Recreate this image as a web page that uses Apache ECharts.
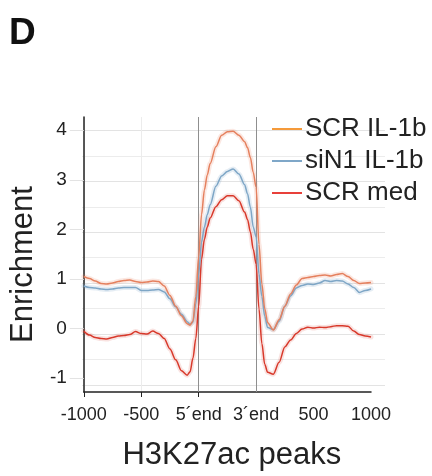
<!DOCTYPE html>
<html>
<head>
<meta charset="utf-8">
<script src="https://cdn.jsdelivr.net/npm/echarts@6/dist/echarts.min.js"></script>
<style>
html,body{margin:0;padding:0;background:#fff;}
#chart{width:432px;height:476px;}
</style>
</head>
<body>
<div id="chart"></div>
<script>
// bin positions along the meta-peak (0 = -1000, 40 = 5'end, 60 = 3'end, 100 = 1000)
const positions = [0,2,4,6,8,10,12,14,16,18,20,22,24,26,28,30,32,34,36,37,38,39,40,41,42,43,44,46,48,50,52,54,56,57,58,59,60,61,62,63,64,66,68,70,72,74,76,78,80,82,84,86,88,90,92,94,96,98,100];

const scrIL1b = [1.05,1.01,0.96,0.91,0.90,0.92,0.95,0.97,0.98,0.95,0.93,0.94,0.96,0.95,0.86,0.67,0.45,0.26,0.10,
  0.07,0.15,0.65,1.45,2.30,2.80,3.10,3.33,
  3.67,3.90,3.97,3.98,3.90,3.77,
  3.65,3.45,3.15,2.85,1.70,0.90,0.40,0.12,
  -0.03,0.18,0.45,0.70,0.88,1.01,1.03,1.05,1.07,1.08,1.06,1.09,1.11,1.05,0.97,0.91,0.92,0.93];

const siN1IL1b = [0.86,0.83,0.82,0.80,0.79,0.80,0.82,0.83,0.83,0.83,0.77,0.77,0.78,0.79,0.74,0.60,0.44,0.29,0.14,
  0.09,0.13,0.50,1.10,1.75,2.05,2.30,2.50,
  2.87,3.08,3.17,3.22,3.12,2.90,
  2.72,2.45,2.05,1.85,1.10,0.65,0.25,0.02,
  -0.02,0.15,0.45,0.66,0.82,0.87,0.90,0.89,0.92,0.97,0.95,0.97,0.96,0.90,0.83,0.73,0.77,0.80];

const scrMed = [-0.05,-0.13,-0.18,-0.20,-0.21,-0.18,-0.15,-0.14,-0.12,-0.06,-0.10,-0.11,-0.05,-0.10,-0.20,-0.41,-0.63,-0.85,-0.94,
  -0.87,-0.60,-0.20,0.45,1.40,1.80,2.05,2.23,
  2.46,2.60,2.68,2.68,2.58,2.35,
  2.20,1.95,1.60,1.30,0.40,-0.30,-0.72,-0.88,
  -0.92,-0.68,-0.37,-0.23,-0.10,-0.01,0.03,0.01,0.03,0.02,0.04,0.06,0.06,0.05,-0.05,-0.12,-0.15,-0.17];

const seriesNames = ['SCR IL-1b','siN1 IL-1b','SCR med'];
const xTickValues = [0,20,40,60,80,100];
const xTickLabels = ['-1000','-500','5\u00B4end','3\u00B4end','500','1000'];
const peakEdges = [40,60];
const yTickValues = [-1,0,1,2,3,4];

const FONT = 'Liberation Sans, Arial, Helvetica, sans-serif';
const lineColors = ['#E5805E','#7EA6C6','#D8392B'];
const bandColors = ['rgba(232,130,95,0.18)','rgba(126,166,198,0.2)','rgba(216,57,43,0.14)'];
const legendColors = ['#F59A3A','#7FA7C8','#E8403A'];

const allVals = [scrIL1b, siN1IL1b, scrMed];
const pairs = v => positions.map((p,i)=>[p, v[i]]);

// horizontal grid colours for ticks -1.5 .. 4.5 step 0.5
const hColors = [];
for (let v = -1.5; v <= 4.5001; v += 0.5) {
  const r = Math.round(v*2)/2;
  if (r === -1.5 || r === 4.5) hColors.push('rgba(0,0,0,0)');
  else if (Number.isInteger(r)) hColors.push('#e3e3e3');
  else hColors.push('#ececec');
}

const zeroPx = 334, unitPx = 50.85, topPx = 117, botPx = 399;
const yMax = (zeroPx - topPx)/unitPx;
const yMin = -(botPx - zeroPx)/unitPx;

const series = [];
[2,1,0].forEach(i => {
  series.push({
    name: 'band' + i, type: 'line', xAxisIndex: 1, yAxisIndex: 1,
    data: pairs(allVals[i]), symbol: 'none', smooth: 0.3, smoothMonotone: 'x', silent: true,
    lineStyle: { color: bandColors[i], width: 5, cap: 'round', join: 'round' }, z: 2
  });
});
[2,1,0].forEach((i, k) => {
  const s = {
    name: seriesNames[i], type: 'line', xAxisIndex: 1, yAxisIndex: 1,
    data: pairs(allVals[i]), symbol: 'none', smooth: 0.3, smoothMonotone: 'x',
    lineStyle: { color: lineColors[i], width: 1.5 }, itemStyle: { color: lineColors[i] }, z: 3
  };
  if (k === 0) {
    s.markLine = {
      silent: true, symbol: 'none', z: 1,
      label: { show: false },
      lineStyle: { color: '#8f8f8f', width: 1, type: 'solid' },
      data: peakEdges.map(x => ({ xAxis: x }))
    };
  }
  series.push(s);
});

const chart = echarts.init(document.getElementById('chart'), null, { renderer: 'canvas' });
chart.setOption({
  animation: false,
  backgroundColor: '#fff',
  title: { text: 'D', left: 4, top: 10, textStyle: { fontSize: 37, fontWeight: 'bold', color: '#111', fontFamily: FONT } },
  legend: {
    orient: 'vertical', left: 272, top: 116, padding: 0,
    icon: 'rect', itemWidth: 30, itemHeight: 2, itemGap: 6,
    textStyle: { fontSize: 26, color: '#222', fontFamily: FONT, padding: [0,0,0,-2] },
    data: seriesNames.map((n,i) => ({ name: n, itemStyle: { color: legendColors[i] } }))
  },
  grid: [
    { left: 82, top: zeroPx - 4.5*unitPx, width: 303, height: 6*unitPx, containLabel: false },
    { left: 82, top: topPx, width: 289, height: botPx - topPx, containLabel: false }
  ],
  xAxis: [
    { gridIndex: 0, type: 'value', min: 0, max: 1, show: false },
    { gridIndex: 1, type: 'value', min: 0, max: 100, interval: 10,
      axisLine: { show: true, onZero: false, lineStyle: { color: '#222', width: 1.5 } },
      axisTick: { show: true, customValues: [0,20,40], length: 5, lineStyle: { color: '#222' } },
      axisLabel: { customValues: xTickValues, margin: 14, fontSize: 18, color: '#222', fontFamily: FONT,
        formatter: v => { const k = xTickValues.indexOf(Math.round(v)); return k >= 0 ? xTickLabels[k] : ''; } },
      splitLine: { show: true, lineStyle: { color: '#ececec', width: 1 } },
      name: 'H3K27ac peaks', nameLocation: 'middle', nameGap: 48,
      nameTextStyle: { fontSize: 31, color: '#222', fontFamily: FONT, padding: [0,0,0,9] }
    }
  ],
  yAxis: [
    { gridIndex: 0, type: 'value', min: -1.5, max: 4.5, interval: 0.5,
      axisLine: { show: false }, axisTick: { show: false }, axisLabel: { show: false },
      splitLine: { show: true, showMinLine: true, showMaxLine: true, lineStyle: { color: hColors, width: 1 } } },
    { gridIndex: 1, type: 'value', min: yMin, max: yMax,
      axisLine: { show: true, onZero: false, lineStyle: { color: '#222', width: 1.5 } },
      axisTick: { show: true, customValues: yTickValues, length: 14, lineStyle: { color: '#e3e3e3' } },
      axisLabel: { customValues: yTickValues, margin: 17, fontSize: 19, color: '#222', fontFamily: FONT,
        formatter: v => String(Math.round(v)) },
      splitLine: { show: false },
      name: 'Enrichment', nameLocation: 'middle', nameGap: 40,
      nameTextStyle: { fontSize: 31, color: '#222', fontFamily: FONT, padding: [0,20,0,0] }
    }
  ],
  series: series
});
</script>
</body>
</html>
